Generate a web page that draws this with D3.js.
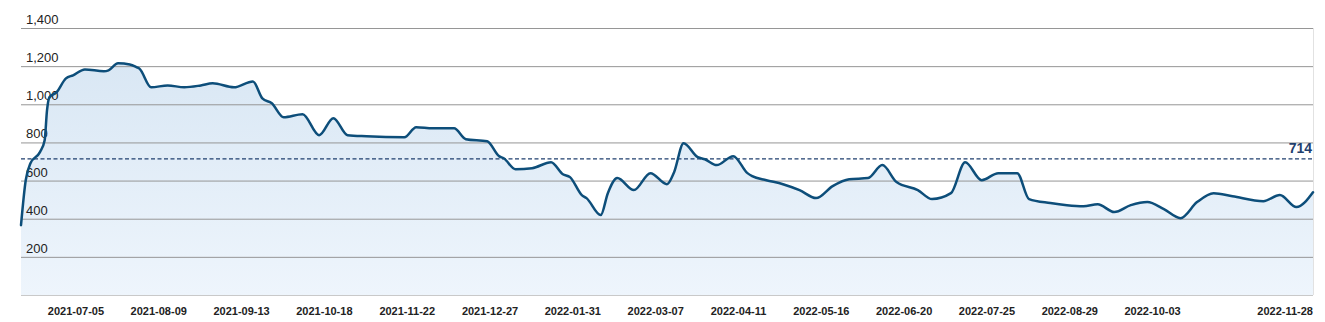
<!DOCTYPE html>
<html>
<head>
<meta charset="utf-8">
<script src="https://cdn.jsdelivr.net/npm/d3@7"></script>
<style>
  body { margin: 0; background: #fff; }
  svg { display: block; }
</style>
</head>
<body>
<div id="chart"></div>
<script>
// weekly-ish readings of the series (date, value)
const dates = [
  '2021-06-12','2021-06-14','2021-06-16','2021-06-20','2021-06-22','2021-06-23','2021-06-24','2021-06-27',
  '2021-07-01','2021-07-04','2021-07-09','2021-07-17','2021-07-19','2021-07-23','2021-07-28','2021-07-31',
  '2021-08-01','2021-08-06','2021-08-13','2021-08-20','2021-08-27','2021-09-01','2021-09-10','2021-09-18',
  '2021-09-22','2021-09-26','2021-10-01','2021-10-09','2021-10-16','2021-10-22','2021-10-28','2021-11-05',
  '2021-11-21','2021-11-26','2021-12-03','2021-12-12','2021-12-17','2021-12-26','2021-12-31','2022-01-02',
  '2022-01-07','2022-01-14','2022-01-22','2022-01-27','2022-01-30','2022-02-04','2022-02-06','2022-02-12',
  '2022-02-15','2022-02-19','2022-02-26','2022-03-05','2022-03-12','2022-03-15','2022-03-19','2022-03-25',
  '2022-03-28','2022-04-02','2022-04-09','2022-04-15','2022-04-17','2022-04-23','2022-04-30','2022-05-07',
  '2022-05-14','2022-05-21','2022-05-28','2022-06-05','2022-06-11','2022-06-17','2022-06-26','2022-07-02',
  '2022-07-10','2022-07-16','2022-07-23','2022-07-30','2022-08-07','2022-08-12','2022-08-21','2022-08-28',
  '2022-09-04','2022-09-10','2022-09-17','2022-09-24','2022-10-01','2022-10-08','2022-10-15','2022-10-22',
  '2022-10-29','2022-11-06','2022-11-19','2022-11-26','2022-12-03','2022-12-10'
];
const values = [
  366, 602, 691, 749, 812, 969, 1037, 1063,
  1136, 1152, 1183, 1173, 1178, 1215, 1209, 1194,
  1188, 1089, 1099, 1089, 1099, 1110, 1089, 1120,
  1031, 1005, 932, 948, 838, 927, 838, 832,
  827, 880, 874, 874, 817, 806, 728, 717,
  660, 665, 696, 633, 618, 524, 508, 419,
  534, 613, 550, 639, 581, 644, 796, 723,
  712, 681, 728, 639, 623, 602, 581, 550,
  508, 571, 607, 613, 681, 592, 550, 503,
  534, 696, 602, 639, 639, 503, 482, 471,
  466, 476, 435, 471, 487, 450, 403, 487,
  534, 518, 492, 524, 461, 539
];
const yTicks = [200, 400, 600, 800, 1000, 1200, 1400];
const xTickLabels = [
  '2021-07-05','2021-08-09','2021-09-13','2021-10-18','2021-11-22','2021-12-27','2022-01-31',
  '2022-03-07','2022-04-11','2022-05-16','2022-06-20','2022-07-25','2022-08-29','2022-10-03','2022-11-28'
];
const refValue = 714;

const width = 1325, height = 322;
const margin = { top: 28, right: 12, bottom: 27, left: 21 };

const parse = d3.utcParse('%Y-%m-%d');
const data = dates.map((d, i) => ({ date: parse(d), value: values[i] }));

const svg = d3.select('#chart').append('svg')
  .attr('width', width).attr('height', height);

const x = d3.scaleUtc()
  .domain(d3.extent(data, d => d.date))
  .range([margin.left, width - margin.right]);

const y = d3.scaleLinear()
  .domain([0, 1400])
  .range([height - margin.bottom, margin.top]);

// fill gradient
const grad = svg.append('defs').append('linearGradient')
  .attr('id', 'fillGrad')
  .attr('gradientUnits', 'userSpaceOnUse')
  .attr('x1', 0).attr('x2', 0)
  .attr('y1', y(1400)).attr('y2', y(0));
grad.append('stop').attr('offset', '0%').attr('stop-color', '#d6e5f3');
grad.append('stop').attr('offset', '100%').attr('stop-color', '#eef5fc');

const area = d3.area()
  .x(d => x(d.date))
  .y0(y(0))
  .y1(d => y(d.value))
  .curve(d3.curveMonotoneX);

svg.append('path')
  .datum(data)
  .attr('d', area)
  .attr('fill', 'url(#fillGrad)');

// gridlines
const yAxis = d3.axisLeft(y)
  .tickValues(yTicks)
  .tickSize(-(width - margin.left - margin.right))
  .tickFormat('');

svg.append('g')
  .attr('transform', `translate(${margin.left},0)`)
  .call(yAxis)
  .call(g => g.select('.domain').remove())
  .selectAll('line')
  .attr('stroke', '#969696')
  .attr('stroke-width', 1);

// y labels sit on the fill, under the line
svg.append('g')
  .selectAll('text')
  .data(yTicks)
  .join('text')
  .attr('x', margin.left + 5)
  .attr('y', d => y(d) - 4)
  .attr('fill', '#222')
  .style('font-family', 'Liberation Sans, Arial, sans-serif')
  .style('font-size', '13px')
  .text(d => d3.format(',')(d));

// baseline and right edge
svg.append('line')
  .attr('x1', margin.left).attr('x2', width - margin.right)
  .attr('y1', y(0) + 0.5).attr('y2', y(0) + 0.5)
  .attr('stroke', '#c9c9c9');
svg.append('line')
  .attr('x1', width - margin.right + 0.5).attr('x2', width - margin.right + 0.5)
  .attr('y1', y(1400)).attr('y2', y(0))
  .attr('stroke', '#e2e2e2');

// reference line
svg.append('line')
  .attr('x1', margin.left).attr('x2', width - margin.right)
  .attr('y1', y(refValue)).attr('y2', y(refValue))
  .attr('stroke', '#1f3f6e')
  .attr('stroke-width', 1.4)
  .attr('stroke-dasharray', '4,2.5');

svg.append('text')
  .attr('x', width - margin.right - 1)
  .attr('y', y(refValue) - 6)
  .attr('text-anchor', 'end')
  .attr('fill', '#1f3f6e')
  .style('font-family', 'Liberation Sans, Arial, sans-serif')
  .style('font-size', '14px')
  .style('font-weight', '600')
  .text(refValue);

// main line
const line = d3.line()
  .x(d => x(d.date))
  .y(d => y(d.value))
  .curve(d3.curveMonotoneX);

svg.append('path')
  .datum(data)
  .attr('d', line)
  .attr('fill', 'none')
  .attr('stroke', '#0d4e7a')
  .attr('stroke-width', 2.5)
  .attr('stroke-linejoin', 'round')
  .attr('stroke-linecap', 'round');

// x axis labels
const xAxis = d3.axisBottom(x)
  .tickValues(xTickLabels.map(parse))
  .tickFormat(d3.utcFormat('%Y-%m-%d'))
  .tickSize(0)
  .tickPadding(12);

svg.append('g')
  .attr('transform', `translate(0,${y(0)})`)
  .call(xAxis)
  .call(g => g.select('.domain').remove())
  .selectAll('text')
  .attr('fill', '#222')
  .style('font-family', 'Liberation Sans, Arial, sans-serif')
  .style('font-size', '11px')
  .style('font-weight', '600');
</script>
</body>
</html>
